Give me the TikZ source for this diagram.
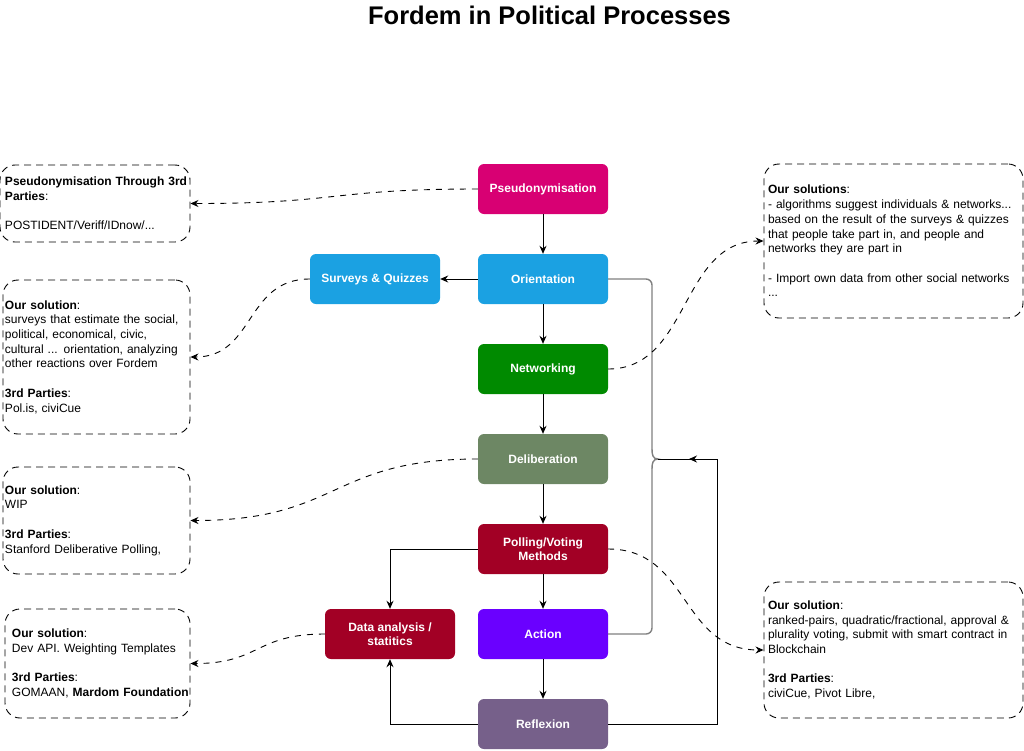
\documentclass[tikz,border=0pt]{standalone}
\usepackage{fontspec}
\setmainfont{Liberation Sans}
\usetikzlibrary{arrows.meta}
\definecolor{cpink}{HTML}{D80073}
\definecolor{cblue}{HTML}{1BA1E2}
\definecolor{cgreen}{HTML}{008A00}
\definecolor{colive}{HTML}{6D8764}
\definecolor{ccrimson}{HTML}{A20025}
\definecolor{cviolet}{HTML}{6A00FF}
\definecolor{cmauve}{HTML}{76608A}
\definecolor{cjunc}{HTML}{808080}
\tikzset{
  proc/.style={rectangle, rounded corners=6pt, minimum width=130pt, minimum height=50pt,
    text=white, font=\fontsize{12}{14}\selectfont\bfseries, align=center, inner sep=2pt},
  notebox/.style={rectangle, rounded corners=15pt, draw=black, line width=0.9pt,
    dash pattern=on 7pt off 5pt, align=left, inner ysep=2pt,
    font=\fontsize{12}{14.7}\selectfont,
    execute at begin node={\hyphenpenalty=10000\hbadness=10000\hfuzz=100pt}},
  conn/.style={draw=black, line width=1pt, -{Stealth[length=8pt,width=7pt]}},
  dconn/.style={draw=black, line width=0.9pt, dash pattern=on 6pt off 6pt, -{Stealth[length=8pt,width=7pt]}},
  junc/.style={draw=cjunc, line width=1.4pt}
}
\begin{document}
\begin{tikzpicture}[x=1pt,y=-1pt]
\useasboundingbox (0,0) rectangle (1024,750);

\node[font=\fontsize{25.5}{28}\selectfont\bfseries] (title) at (549.5,15) {Fordem in Political Processes};

% main process boxes
\node[proc, fill=cpink]   (pseudo)  at (543,189) {Pseudonymisation};
\node[proc, fill=cblue]   (orient)  at (543,279) {Orientation};
\node[proc, fill=cgreen]  (network) at (543,369) {Networking};
\node[proc, fill=colive]  (delib)   at (543,459) {Deliberation};
\node[proc, fill=ccrimson](poll)    at (543,549) {Polling/Voting\\Methods};
\node[proc, fill=cviolet] (action)  at (543,634) {Action};
\node[proc, fill=cmauve]  (reflex)  at (543,724) {Reflexion};
\node[proc, fill=cblue]   (surveys) at (375,279) {Surveys \& Quizzes};
\node[proc, fill=ccrimson](data)    at (390,634) {Data analysis /\\statitics};

% note boxes
\node[notebox, minimum width=190pt, minimum height=77pt, inner xsep=5pt, text width=180pt] (n1) at (95,203.5)
  {\mbox{\textbf{Pseudonymisation Through 3rd}}\\\textbf{Parties}:\\[14.7pt]POSTIDENT/Veriff/IDnow/...};
\node[notebox, minimum width=187pt, minimum height=154pt, inner xsep=2pt, text width=183pt] (n2) at (96.5,357)
  {\textbf{Our solution}:\\surveys that estimate the social,\\political, economical, civic,\\cultural ... orientation, analyzing\\other reactions over Fordem\\[14.7pt]\textbf{3rd Parties}:\\Pol.is, civiCue};
\node[notebox, minimum width=187pt, minimum height=107pt, inner xsep=2pt, text width=183pt] (n3) at (96.5,520.5)
  {\textbf{Our solution}:\\WIP\\[14.7pt]\textbf{3rd Parties}:\\Stanford Deliberative Polling,};
\node[notebox, minimum width=185pt, minimum height=109pt, inner xsep=7pt, text width=171pt] (n4) at (97.5,663.5)
  {\textbf{Our solution}:\\Dev API. Weighting Templates\\[14.7pt]\textbf{3rd Parties}:\\\mbox{GOMAAN, \textbf{Mardom Foundation}}};
\node[notebox, minimum width=259pt, minimum height=154pt, inner xsep=4pt, text width=251pt] (n5) at (893.5,241)
  {\textbf{Our solutions}:\\- algorithms suggest individuals \& networks...\\based on the result of the surveys \& quizzes\\that people take part in, and people and\\networks they are part in\\[14.7pt]- Import own data from other social networks\\...};
\node[notebox, minimum width=259pt, minimum height=136pt, inner xsep=4pt, text width=251pt] (n6) at (893.5,650)
  {\textbf{Our solution}:\\ranked-pairs, quadratic/fractional, approval \&\\plurality voting, submit with smart contract in\\Blockchain\\[14.7pt]\textbf{3rd Parties}:\\civiCue, Pivot Libre,};

% solid connectors
\draw[conn] (pseudo) -- (orient);
\draw[conn] (orient) -- (network);
\draw[conn] (network) -- (delib);
\draw[conn] (delib) -- (poll);
\draw[conn] (poll) -- (action);
\draw[conn] (action) -- (reflex);
\draw[conn] (orient.west) -- (surveys.east);
\draw[conn] (poll.west) -| (data.north);
\draw[conn] (reflex.west) -| (data.south);

% junction line Orientation -- Action
\coordinate (jn) at (658,459);
\draw[junc, rounded corners=6pt] (orient.east) -- (652,279) -- (652,450);
\draw[junc] (652,449.5) .. controls (652,455) and (653,459) .. (jn) .. controls (653,459) and (652,463) .. (652,468.5);
\draw[junc, rounded corners=6pt] (652,468) -- (652,634) -- (action.east);
\draw[conn] (reflex.east) -| (717,459) -- (689,459);
\draw[line width=1pt] (692,459) -- (jn);

% dashed connectors
\draw[dconn] (pseudo.west) .. controls (330,189) and (340,203.5) .. (n1.east);
\draw[dconn] (surveys.west) .. controls (245,279) and (255,357) .. (n2.east);
\draw[dconn] (network.east) .. controls (690,369) and (680,241) .. (n5.west);
\draw[dconn] (delib.west) .. controls (330,459) and (340,520.5) .. (n3.east);
\draw[dconn] (poll.east) .. controls (690,549) and (680,650) .. (n6.west);
\draw[dconn] (data.west) .. controls (255,634) and (260,663.5) .. (n4.east);
\end{tikzpicture}
\end{document}
